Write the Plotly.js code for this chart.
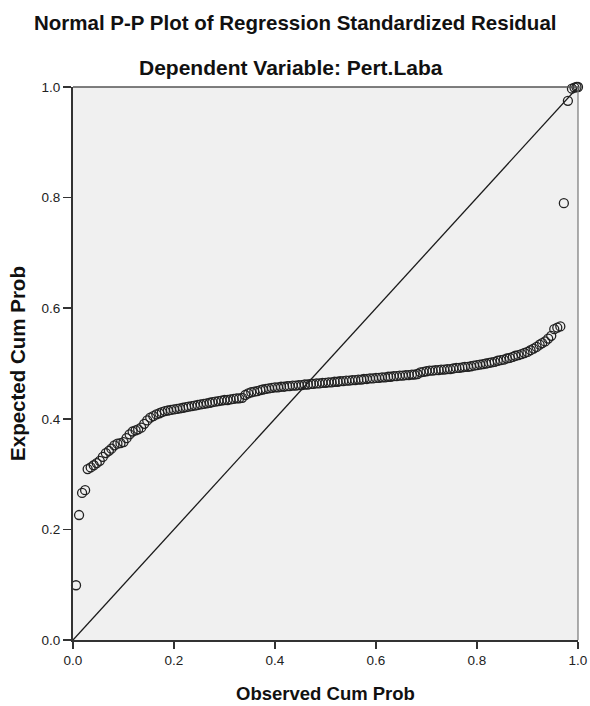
<!DOCTYPE html>
<html>
<head>
<meta charset="utf-8">
<script src="https://cdn.plot.ly/plotly-3.0.1.min.js"></script>
<style>html,body{margin:0;padding:0;background:#fff;}#chart{width:590px;height:706px;}</style>
</head>
<body>
<div id="chart"></div>
<script>
// Observed cumulative probability (x) and expected cumulative probability (y)
var observedCumProb = [
0.006,0.012,0.018,0.024,0.029,0.035,0.041,0.047,0.053,0.059,
0.065,0.071,0.076,0.082,0.088,0.094,0.100,0.106,0.112,0.118,
0.124,0.129,0.135,0.141,0.147,0.153,0.159,0.165,0.171,0.176,
0.182,0.188,0.194,0.200,0.206,0.212,0.218,0.224,0.229,0.235,
0.241,0.247,0.253,0.259,0.265,0.271,0.276,0.282,0.288,0.294,
0.300,0.306,0.312,0.318,0.324,0.329,0.335,0.341,0.347,0.353,
0.359,0.365,0.371,0.376,0.382,0.388,0.394,0.400,0.406,0.412,
0.418,0.424,0.429,0.435,0.441,0.447,0.453,0.459,0.465,0.471,
0.476,0.482,0.488,0.494,0.500,0.506,0.512,0.518,0.524,0.529,
0.535,0.541,0.547,0.553,0.559,0.565,0.571,0.576,0.582,0.588,
0.594,0.600,0.606,0.612,0.618,0.624,0.629,0.635,0.641,0.647,
0.653,0.659,0.665,0.671,0.676,0.682,0.688,0.694,0.700,0.706,
0.712,0.718,0.724,0.729,0.735,0.741,0.747,0.753,0.759,0.765,
0.771,0.776,0.782,0.788,0.794,0.800,0.806,0.812,0.818,0.824,
0.829,0.835,0.841,0.847,0.853,0.859,0.865,0.871,0.876,0.882,
0.888,0.894,0.900,0.906,0.912,0.918,0.924,0.929,0.935,0.941,
0.947,0.953,0.959,0.965,0.972,0.980,0.988,0.993,0.997,1.000
];
var expectedCumProb = [
0.099,0.226,0.266,0.271,0.309,0.312,0.316,0.320,0.324,0.331,
0.338,0.342,0.346,0.352,0.355,0.356,0.358,0.365,0.372,0.377,
0.379,0.381,0.384,0.391,0.397,0.402,0.405,0.408,0.410,0.412,
0.414,0.415,0.416,0.417,0.418,0.419,0.420,0.421,0.422,0.423,
0.424,0.425,0.426,0.427,0.428,0.429,0.430,0.431,0.432,0.433,
0.434,0.434,0.435,0.436,0.437,0.437,0.438,0.443,0.446,0.448,
0.449,0.450,0.452,0.453,0.454,0.455,0.456,0.457,0.457,0.458,
0.458,0.459,0.459,0.460,0.460,0.461,0.461,0.462,0.462,0.463,
0.463,0.464,0.464,0.465,0.465,0.466,0.466,0.467,0.467,0.468,
0.468,0.469,0.469,0.470,0.470,0.471,0.471,0.472,0.472,0.473,
0.473,0.474,0.474,0.475,0.475,0.476,0.476,0.477,0.477,0.478,
0.478,0.479,0.479,0.480,0.480,0.481,0.484,0.485,0.486,0.487,
0.487,0.488,0.488,0.489,0.489,0.490,0.490,0.491,0.492,0.492,
0.493,0.494,0.494,0.495,0.496,0.497,0.498,0.499,0.500,0.501,
0.502,0.503,0.505,0.506,0.507,0.509,0.510,0.512,0.514,0.515,
0.517,0.519,0.521,0.524,0.527,0.530,0.534,0.537,0.540,0.545,
0.550,0.562,0.565,0.567,0.790,0.975,0.997,0.999,1.000,1.000
];
var refLineX = [0, 1];
var refLineY = [0, 1];
var tickVals = [0, 0.2, 0.4, 0.6, 0.8, 1.0];
var tickText = ["0.0", "0.2", "0.4", "0.6", "0.8", "1.0"];

var FONT = "Liberation Sans, Arial, sans-serif";

var traces = [
  {
    x: refLineX, y: refLineY, type: "scatter", mode: "lines",
    line: {color: "#1a1a1a", width: 1.3}, hoverinfo: "skip", showlegend: false, cliponaxis: true
  },
  {
    x: observedCumProb, y: expectedCumProb, type: "scatter", mode: "markers",
    marker: {symbol: "circle-open", size: 9, color: "#222", line: {width: 1.3, color: "#222"}},
    showlegend: false, cliponaxis: false
  }
];

var layout = {
  width: 590, height: 706,
  margin: {l: 73, r: 12, t: 87, b: 66, pad: 0},
  paper_bgcolor: "#ffffff",
  plot_bgcolor: "#f0f0f0",
  font: {family: FONT, size: 12, color: "#222"},
  showlegend: false,
  xaxis: {
    range: [0, 1], autorange: false, fixedrange: true,
    tickvals: tickVals, ticktext: tickText,
    ticks: "outside", ticklen: 7, tickwidth: 1.5, tickcolor: "#333",
    showline: true, linecolor: "#333", linewidth: 2,
    showgrid: false, zeroline: false,
    tickfont: {family: FONT, size: 13.5, color: "#222"},
    title: {text: "Observed Cum Prob", font: {family: FONT, size: 18.5, color: "#111", weight: "bold"}, standoff: 20}
  },
  yaxis: {
    range: [0, 1], autorange: false, fixedrange: true,
    tickvals: tickVals, ticktext: tickText,
    ticks: "outside", ticklen: 8, tickwidth: 1.5, tickcolor: "#333",
    showline: true, linecolor: "#333", linewidth: 2,
    showgrid: false, zeroline: false,
    tickfont: {family: FONT, size: 13.5, color: "#222"},
    title: {text: "Expected Cum Prob", font: {family: FONT, size: 20.5, color: "#111", weight: "bold"}, standoff: 10}
  },
  shapes: [
    {type: "line", xref: "paper", yref: "paper", x0: 0, x1: 1, y0: 1, y1: 1, line: {color: "#555", width: 1.5}},
    {type: "line", xref: "paper", yref: "paper", x0: 1, x1: 1, y0: 0, y1: 1, line: {color: "#777", width: 1.2}}
  ],
  annotations: [
    {text: "Normal P-P Plot of Regression Standardized Residual", xref: "paper", yref: "paper",
     x: 0.44, y: 1.1175, xanchor: "center", yanchor: "middle", showarrow: false,
     font: {family: FONT, size: 20.5, color: "#111", weight: "bold"}},
    {text: "Dependent Variable: Pert.Laba", xref: "paper", yref: "paper",
     x: 0.432, y: 1.036, xanchor: "center", yanchor: "middle", showarrow: false,
     font: {family: FONT, size: 21, color: "#111", weight: "bold"}}
  ]
};

Plotly.newPlot("chart", traces, layout, {displayModeBar: false, staticPlot: true});
</script>
</body>
</html>
